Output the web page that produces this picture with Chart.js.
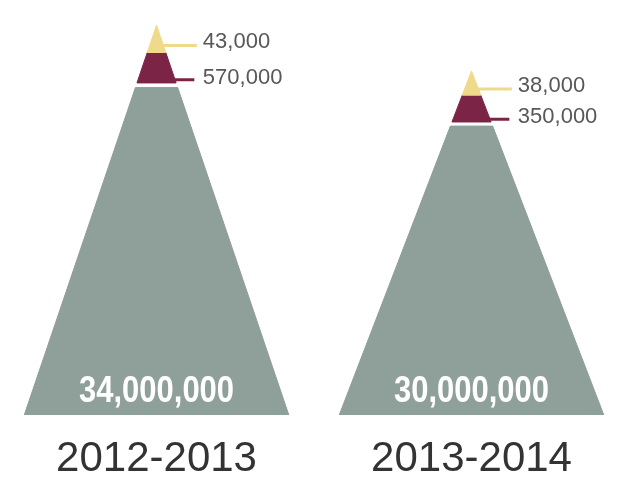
<!DOCTYPE html>
<html>
<head>
<meta charset="utf-8">
<script src="https://cdn.jsdelivr.net/npm/chart.js@4.4.0/dist/chart.umd.min.js"></script>
<style>
  body { margin: 0; background: #fff; }
  #wrap { width: 618px; height: 483px; }
</style>
</head>
<body>
<div id="wrap"><canvas id="pyramids"></canvas></div>
<script>
// values
const seasons = ['2012-2013', '2013-2014'];
const baseCounts = [34000000, 30000000];
const midCounts = [570000, 350000];
const topCounts = [43000, 38000];

// look of the pyramids (not data)
const halfBase = 0.42;      // half width of the base, in x units
const grayTop = 0.84;       // tiers are drawn as fractions of the height, not to scale
const midBottom = 0.852;
const midTop = 0.93;
const topLeaderAt = 0.948;
const midLeaderAt = 0.86;
const grayCol = '#8f9f99';
const maroonCol = '#7c2446';
const yellowCol = '#efd98a';

function halfAt(f) {
  return halfBase * (1 - f);
}

// one tier of pyramid i between two height fractions
function tier(i, f0, f1) {
  const h = baseCounts[i];
  const pts = [
    { x: i - halfAt(f0), y: h * f0 },
    { x: i + halfAt(f0), y: h * f0 },
    { x: i + halfAt(f1), y: h * f1 },
    { x: i - halfAt(f1), y: h * f1 }
  ];
  pts.push(pts[0]);
  return pts;
}

function leader(i, f, len) {
  const h = baseCounts[i];
  return [{ x: i, y: h * f }, { x: i + len, y: h * f }];
}

let datasets = [];
seasons.forEach((s, i) => {
  datasets.push({
    data: tier(i, 0, grayTop), backgroundColor: grayCol, borderColor: grayCol,
    borderWidth: 1, fill: 'shape', order: 3
  });
  datasets.push({
    data: tier(i, midBottom, midTop), backgroundColor: maroonCol, borderColor: maroonCol,
    borderWidth: 1, fill: 'shape', order: 2
  });
  datasets.push({
    data: tier(i, midTop, 1), backgroundColor: yellowCol, borderColor: yellowCol,
    borderWidth: 1, fill: 'shape', order: 1
  });
  datasets.push({
    data: leader(i, topLeaderAt, 0.128), borderColor: yellowCol, borderWidth: 3,
    fill: false, order: 10
  });
  datasets.push({
    data: leader(i, midLeaderAt, 0.12), borderColor: maroonCol, borderWidth: 3,
    fill: false, order: 10
  });
});

const textPlugin = {
  id: 'pyramidText',
  afterDatasetsDraw(chart) {
    const ctx = chart.ctx;
    const x = chart.scales.x;
    const y = chart.scales.y;
    ctx.save();
    seasons.forEach((s, i) => {
      const cx = x.getPixelForValue(i);
      // big total inside the base, squeezed to a condensed look
      const big = baseCounts[i].toLocaleString('en-US');
      ctx.fillStyle = '#ffffff';
      ctx.font = 'bold 37px "Liberation Sans", Arial, sans-serif';
      ctx.textAlign = 'center';
      ctx.textBaseline = 'middle';
      const w = ctx.measureText(big).width;
      const sx = 155 / w;
      ctx.save();
      ctx.translate(cx, y.getPixelForValue(0) - 23);
      ctx.scale(sx, 1);
      ctx.fillText(big, 0, 0);
      ctx.restore();
      // small numbers next to the leaders
      ctx.fillStyle = '#585858';
      ctx.font = '22px "Liberation Sans", Arial, sans-serif';
      ctx.textAlign = 'left';
      ctx.textBaseline = 'alphabetic';
      const lx = x.getPixelForValue(i + 0.147);
      ctx.fillText(topCounts[i].toLocaleString('en-US'), lx, y.getPixelForValue(baseCounts[i] * topLeaderAt) + 3);
      ctx.fillText(midCounts[i].toLocaleString('en-US'), lx, y.getPixelForValue(baseCounts[i] * midLeaderAt) + 4);
    });
    ctx.restore();
  }
};

new Chart(document.getElementById('pyramids'), {
  type: 'scatter',
  data: { datasets: datasets },
  options: {
    responsive: true,
    maintainAspectRatio: false,
    animation: false,
    showLine: true,
    elements: { point: { radius: 0, hoverRadius: 0 }, line: { tension: 0 } },
    layout: { padding: 0 },
    plugins: { legend: { display: false }, tooltip: { enabled: false } },
    scales: {
      x: {
        type: 'linear',
        min: -0.497,
        max: 1.465,
        grid: { display: false, drawTicks: false },
        border: { display: false },
        afterBuildTicks: (scale) => {
          scale.ticks = seasons.map((s, i) => ({ value: i }));
        },
        afterFit: (scale) => {
          scale.height = 68;
        },
        ticks: {
          autoSkip: false,
          maxRotation: 0,
          padding: 19,
          color: '#333333',
          font: { family: '"Liberation Sans", Arial, sans-serif', size: 42 },
          callback: (v) => seasons[v]
        }
      },
      y: {
        display: false,
        min: 0,
        max: 36200000
      }
    }
  },
  plugins: [textPlugin]
});
</script>
</body>
</html>
